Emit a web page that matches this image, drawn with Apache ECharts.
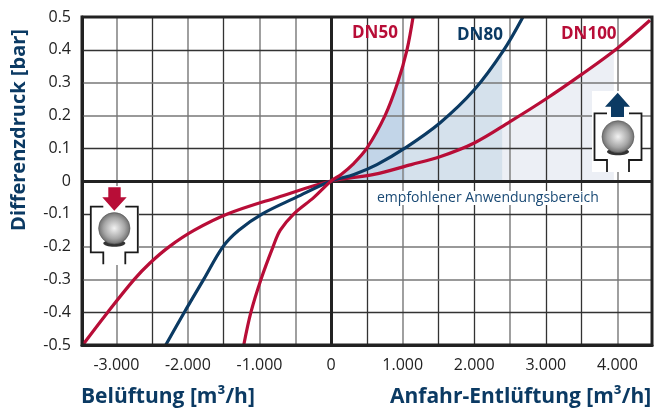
<!DOCTYPE html>
<html><head><meta charset="utf-8">
<style>html,body{margin:0;padding:0;background:#fff}#c{width:657px;height:411px}</style>
<script src="https://cdn.jsdelivr.net/npm/echarts@6/dist/echarts.min.js"></script>
</head><body><div id="c"></div>
<script>
const dn50 = [[-1220,-0.5],[-1120,-0.4],[-980,-0.3],[-810,-0.2],[-710,-0.15],[-520,-0.1],[-240,-0.05],[0,0],[140,0.02],[300,0.05],[500,0.1],[755,0.2],[930,0.3],[1060,0.4],[1145,0.5]];
const dn80 = [[-2310,-0.5],[-2050,-0.4],[-1780,-0.3],[-1510,-0.2],[-1290,-0.15],[-960,-0.1],[-490,-0.05],[0,0],[320,0.02],[640,0.05],[1030,0.1],[1520,0.177],[2000,0.278],[2400,0.395],[2680,0.5]];
const dn100 = [[-3470,-0.5],[-3120,-0.4],[-2750,-0.3],[-2530,-0.25],[-2260,-0.2],[-1910,-0.15],[-1440,-0.1],[-750,-0.05],[0,0],[600,0.02],[1120,0.05],[1520,0.074],[2000,0.116],[2500,0.181],[3000,0.25],[3500,0.325],[4000,0.405],[4455,0.49]];
const fill50 = [[0,0],[140,0.02],[300,0.05],[500,0.1],[755,0.2],[930,0.3],[1030,0.375]];
const fill80 = [[0,0],[320,0.02],[640,0.05],[1030,0.1],[1520,0.177],[2000,0.278],[2390,0.392]];
const fill100 = [[0,0],[600,0.02],[1120,0.05],[1520,0.074],[2000,0.116],[2500,0.181],[3000,0.25],[3500,0.325],[3950,0.397]];
const xTicks = [-3000,-2000,-1000,0,1000,2000,3000,4000];
const xGridDark = [-2500,-1500,500,1500,2000,3000,3500];
const xGridGray = [-3000,-2000,-1000,-500,1000,2500,4000];
const yGridDark = [-0.4,-0.1,0.1,0.4];
const yGridGray = [-0.3,-0.2,0.2,0.3];
const xMin=-3480, xMax=4483;
const navy='#0b3a63', red='#b80d37';
const fmtX=v=>v===0?'0':(v<0?'-':'')+Math.abs(v/1000).toFixed(3);
const fmtY=v=>v===0?'0':v.toFixed(1);
const tickFont={fontFamily:'"Open Sans",sans-serif',fontSize:16,color:'#222'};
const g=(color,width)=>({color,width,type:'solid'});
const grid=[
 ...xGridDark.map(v=>({xAxis:v,lineStyle:g('#333',1.3)})),
 ...xGridGray.map(v=>({xAxis:v,lineStyle:g('#888',1.6)})),
 ...yGridDark.map(v=>({yAxis:v,lineStyle:g('#333',1.3)})),
 ...yGridGray.map(v=>({yAxis:v,lineStyle:g('#777',1.6)})),
 {xAxis:0,lineStyle:g('#222',3)},
 {yAxis:0,lineStyle:g('#222',3)}
];
const area=(data,color,z)=>({type:'line',data,smooth:0.35,symbol:'none',silent:true,z,lineStyle:{width:0},areaStyle:{color,opacity:1,origin:0}});
const curve=(data,color)=>({type:'line',data,smooth:0.35,symbol:'none',z:10,clip:true,lineStyle:{color,width:3.2},itemStyle:{color}});
function bracket(pts){return {type:'polyline',z:50,shape:{points:pts},style:{stroke:'#1a1a1a',lineWidth:1.8,fill:null}};}
const ballFill={type:'radial',x:0.5,y:0.5,r:0.55,colorStops:[{offset:0,color:'#f2f2f2'},{offset:0.6,color:'#a6a6a6'},{offset:1,color:'#5c5c5c'}]};
function icon(cx,bx0,by0,bx1,by1,cy,r,top,bot,arrow,color){
 return [
  {type:'rect',z:40,shape:{x:bx0,y:by0,width:bx1-bx0,height:by1-by0},style:{fill:'#fff'}},
  bracket([[cx-11,top],[cx-23.5,top],[cx-23.5,bot],[cx-11,bot],[cx-11,bot+12]]),
  bracket([[cx+11,top],[cx+23.5,top],[cx+23.5,bot],[cx+11,bot],[cx+11,bot+12]]),
  {type:'ellipse',z:51,shape:{cx,cy:cy+15,rx:11,ry:3.5},style:{fill:'#333'}},
  {type:'circle',z:52,shape:{cx,cy,r},style:{fill:ballFill,stroke:'#555',lineWidth:0.6}},
  {type:'polygon',z:53,shape:{points:arrow},style:{fill:color}}
 ];
}
const T=(text,x,y,color,size,extra={})=>({type:'text',z:60,x,y,style:Object.assign({text,fill:color,font:`bold ${size}px "Open Sans",sans-serif`,textVerticalAlign:'middle'},extra)});
const chart=echarts.init(document.getElementById('c'),null,{renderer:'canvas'});
chart.setOption({
 animation:false,
 grid:{left:82,right:5,top:17,bottom:66,show:false},
 xAxis:{type:'value',min:xMin,max:xMax,splitLine:{show:false},
  axisLine:{show:true,onZero:false,lineStyle:{color:'#222',width:3}},
  axisTick:{show:false},
  axisLabel:Object.assign({customValues:xTicks,formatter:fmtX,margin:12,hideOverlap:false},tickFont)},
 yAxis:{type:'value',min:-0.5,max:0.5,interval:0.1,splitLine:{show:false},
  axisLine:{show:true,onZero:false,lineStyle:{color:'#222',width:3}},
  axisTick:{show:false},
  axisLabel:Object.assign({formatter:fmtY,margin:11},tickFont)},
 series:[
  area(fill100,'#eceff5',1),
  area(fill80,'#d5e1ec',2),
  area(fill50,'#c2d5e8',3),
  {type:'line',data:[],z:4,silent:true,markLine:{silent:true,symbol:'none',label:{show:false},animation:false,z:4,data:grid}},
  curve(dn100,red),curve(dn80,navy),curve(dn50,red)
 ],
 graphic:[
  {type:'rect',z:30,shape:{x:82,y:17,width:570,height:328},style:{fill:null,stroke:'#222',lineWidth:3}},
  ...icon(618,592,91,641,172,136.7,16,113.3,160,[[617.7,92.7],[630,106.7],[624,106.7],[624,117],[611,117],[611,106.7],[605,106.7]],navy),
  ...icon(114.3,90,186,139,265,228.3,15.7,206.7,252.3,[[114.3,210.7],[126.7,197.3],[120.7,197.3],[120.7,187.3],[108.3,187.3],[108.3,197.3],[102.3,197.3]],red),
  T('DN50',352,33,red,17),
  T('DN80',457,35,navy,17),
  T('DN100',561,34,red,17),
  {type:'text',z:60,x:377,y:198,style:{text:'empfohlener Anwendungsbereich',fill:'#1a4a75',font:'14px "Open Sans",sans-serif',textVerticalAlign:'middle',backgroundColor:'#fff'}},
  T('Belüftung [m³/h]',81,397,navy,21),
  T('Anfahr-Entlüftung [m³/h]',390,397,navy,21),
  {type:'text',z:60,x:19,y:130,rotation:Math.PI/2,style:{text:'Differenzdruck [bar]',fill:navy,font:'bold 20px "Open Sans",sans-serif',textAlign:'center',textVerticalAlign:'middle'}}
 ]
});
</script></body></html>
